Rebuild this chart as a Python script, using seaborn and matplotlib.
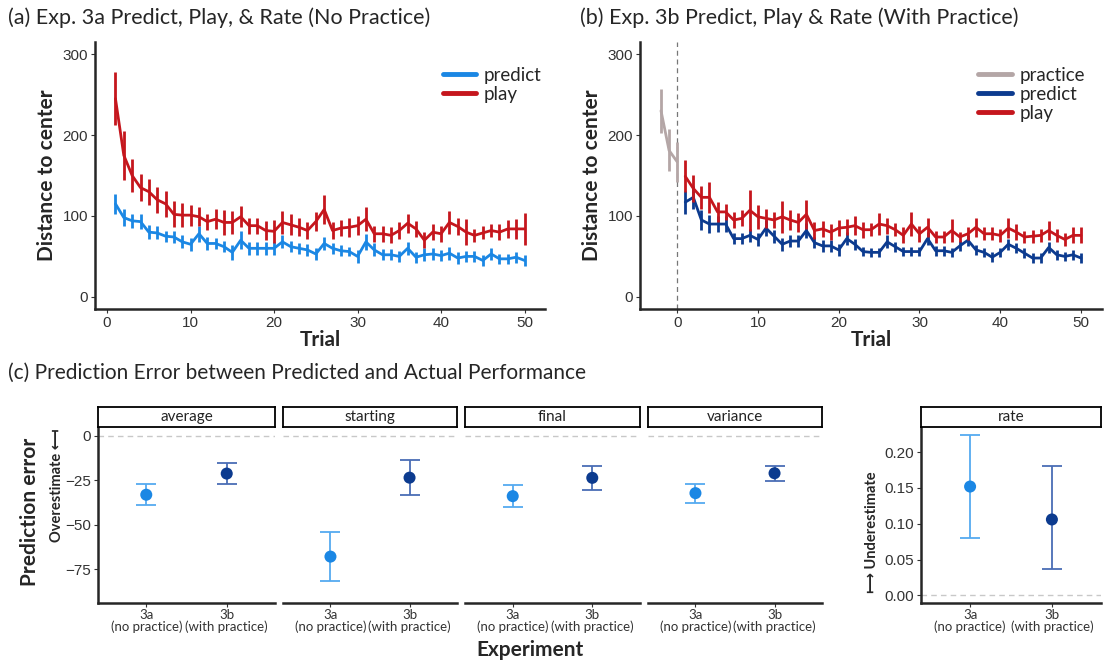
import numpy as np
import pandas as pd
import matplotlib
matplotlib.use("Agg")
import matplotlib.pyplot as plt
import seaborn as sns

# ---- data: Exp. 3a (no practice) ----
trials = list(range(1, 51))
a_play = [245, 175, 150, 135, 130, 120, 115, 102, 101, 101,
          99, 93, 96, 92, 92, 99, 88, 88, 82, 81,
          92, 89, 86, 82, 93, 108, 82, 85, 86, 88,
          96, 78, 78, 76, 82, 91, 84, 70, 80, 78,
          92, 87, 80, 76, 79, 82, 80, 84, 84, 84]
a_play_err = [33, 30, 20, 17, 16, 16, 16, 16, 15, 13,
              12, 10, 12, 15, 14, 13, 10, 10, 12, 14,
              14, 13, 11, 10, 12, 18, 10, 10, 12, 12,
              15, 10, 10, 10, 10, 12, 10, 10, 10, 10,
              14, 11, 16, 8, 8, 8, 10, 11, 12, 20]
a_pred = [115, 98, 94, 93, 80, 79, 75, 74, 68, 65,
          78, 66, 66, 62, 55, 70, 60, 60, 60, 60,
          68, 62, 60, 58, 53, 66, 60, 57, 56, 50,
          68, 58, 52, 52, 50, 60, 49, 52, 53, 51,
          54, 48, 50, 50, 45, 53, 47, 47, 49, 45]
a_pred_err = [12, 10, 9, 9, 9, 8, 7, 7, 8, 8,
              10, 8, 7, 7, 9, 11, 8, 8, 8, 8,
              8, 7, 7, 7, 7, 8, 7, 7, 6, 8,
              10, 8, 7, 7, 7, 8, 7, 8, 8, 7,
              8, 7, 7, 7, 7, 7, 6, 6, 7, 7]

# ---- data: Exp. 3b (with practice) ----
b_prac_trials = [-2, -1, 0]
b_prac = [230, 181, 167]
b_prac_err = [27, 26, 25]
b_play = [149, 134, 123, 123, 105, 105, 95, 97, 107, 99,
          97, 95, 99, 95, 92, 102, 82, 84, 80, 85,
          86, 88, 83, 83, 90, 88, 83, 76, 90, 78,
          86, 74, 74, 82, 74, 78, 86, 78, 78, 76,
          85, 80, 74, 75, 76, 82, 76, 71, 76, 76]
b_play_err = [20, 17, 14, 19, 12, 10, 10, 10, 25, 15,
              12, 10, 20, 12, 12, 18, 10, 10, 10, 10,
              10, 12, 10, 8, 14, 10, 8, 10, 15, 10,
              12, 8, 8, 14, 6, 8, 12, 8, 8, 8,
              12, 10, 8, 8, 8, 12, 8, 8, 10, 10]
b_pred = [117, 123, 95, 90, 90, 90, 72, 72, 76, 71,
          85, 75, 65, 69, 69, 82, 67, 63, 63, 58,
          72, 65, 56, 55, 55, 68, 62, 56, 56, 56,
          72, 57, 57, 55, 63, 70, 58, 55, 49, 55,
          65, 60, 54, 48, 48, 61, 52, 50, 52, 48]
b_pred_err = [14, 14, 12, 11, 10, 10, 7, 7, 8, 8,
              10, 8, 8, 7, 7, 9, 7, 7, 7, 7,
              8, 7, 6, 6, 6, 8, 6, 6, 6, 6,
              8, 6, 6, 6, 6, 7, 6, 6, 6, 6,
              7, 6, 6, 6, 6, 7, 6, 6, 6, 6]

# ---- data: prediction error (panel c) ----
experiments = ["3a\n(no practice)", "3b\n(with practice)"]
facets = ["average", "starting", "final", "variance"]
err_mean = {"average": [-33.1, -21.2], "starting": [-67.9, -23.5],
            "final": [-33.9, -23.6], "variance": [-32.2, -21.0]}
err_low = {"average": [-38.9, -27.0], "starting": [-81.9, -33.5],
           "final": [-39.8, -30.5], "variance": [-37.6, -25.3]}
err_high = {"average": [-27.2, -15.4], "starting": [-54.0, -13.4],
            "final": [-27.5, -16.8], "variance": [-27.2, -16.9]}
rate_mean = [0.152, 0.106]
rate_low = [0.080, 0.037]
rate_high = [0.2235, 0.181]

# ---- colours ----
c_light = "#1b87e4"
c_dark = "#0c3b8f"
c_red = "#c5161d"
c_prac = "#b4a6a6"
c_light_bar = "#55aaf0"
c_dark_bar = "#4a6db5"

sns.set_theme(style="ticks")
plt.rcParams["font.family"] = ["Lato", "DejaVu Sans"]
plt.rcParams["axes.linewidth"] = 1.8

W, H = 1105, 663
fig = plt.figure(figsize=(W / 100, H / 100), dpi=100)


def px(l, t, r, b):
    return [l / W, 1 - b / H, (r - l) / W, (b - t) / H]


def style_axes(ax, tick_size=11, xfam=None, xsize=None):
    sns.despine(ax=ax)
    ax.tick_params(axis="both", length=3, width=0.8, colors="#333333",
                   labelsize=tick_size, pad=2)
    for lab in ax.get_yticklabels():
        lab.set_fontfamily(["Liberation Sans", "DejaVu Sans"])
    for lab in ax.get_xticklabels():
        lab.set_fontfamily(xfam or ["Liberation Sans", "DejaVu Sans"])
        if xsize:
            lab.set_fontsize(xsize)
    ax.grid(False)


def line_panel(ax, x, y, e, color, label):
    df = pd.DataFrame({"Trial": x, "dist": y})
    sns.lineplot(data=df, x="Trial", y="dist", color=color, lw=2,
                 ax=ax, label=label)
    ax.vlines(x, np.array(y) - np.array(e), np.array(y) + np.array(e),
              color=color, lw=2)


def legend(ax, xanchor):
    leg = ax.legend(loc="upper right", frameon=False, fontsize=13.5,
                    handlelength=1.8, bbox_to_anchor=(xanchor, 0.97),
                    labelspacing=0.1, handletextpad=0.4)
    for h in leg.get_lines():
        h.set_linewidth(3.5)


# ---- panel a ----
ax_a = fig.add_axes(px(95, 42, 545, 309))
line_panel(ax_a, trials, a_pred, a_pred_err, c_light, "predict")
line_panel(ax_a, trials, a_play, a_play_err, c_red, "play")
ax_a.set_xlim(-1.45, 52.45)
ax_a.set_ylim(-15, 315)
ax_a.set_xticks([0, 10, 20, 30, 40, 50])
ax_a.set_yticks([0, 100, 200, 300])
ax_a.set_xlabel("Trial", fontsize=15, fontweight="bold", labelpad=0)
ax_a.set_ylabel("Distance to center", fontsize=15, fontweight="bold", labelpad=4)
style_axes(ax_a)
legend(ax_a, 1.03)
fig.text(8 / W, 1 - 18 / H, "(a) Exp. 3a Predict, Play, & Rate (No Practice)",
         fontsize=15.5, va="center", ha="left")

# ---- panel b ----
ax_b = fig.add_axes(px(640, 42, 1102, 309))
ax_b.axvline(0, color="#777777", lw=0.9, ls=(0, (4, 3)))
line_panel(ax_b, b_prac_trials, b_prac, b_prac_err, c_prac, "practice")
line_panel(ax_b, trials, b_pred, b_pred_err, c_dark, "predict")
line_panel(ax_b, trials, b_play, b_play_err, c_red, "play")
ax_b.set_xlim(-4.6, 52.6)
ax_b.set_ylim(-15, 315)
ax_b.set_xticks([0, 10, 20, 30, 40, 50])
ax_b.set_yticks([0, 100, 200, 300])
ax_b.set_xlabel("Trial", fontsize=15, fontweight="bold", labelpad=0)
ax_b.set_ylabel("Distance to center", fontsize=15, fontweight="bold", labelpad=4)
style_axes(ax_b)
legend(ax_b, 1.0)
fig.text(580 / W, 1 - 18 / H, "(b) Exp. 3b Predict, Play & Rate (With Practice)",
         fontsize=15.5, va="center", ha="left")

# ---- panel c ----
fig.text(8 / W, 1 - 373 / H,
         "(c) Prediction Error between Predicted and Actual Performance",
         fontsize=15, va="center", ha="left")

facet_x = [(98, 275), (283, 457), (465, 640), (648, 822)]
pt_colors = [c_light, c_dark]
bar_colors = [c_light_bar, c_dark_bar]


def strip(l, r, text):
    s = fig.add_axes(px(l, 407, r, 427))
    s.set_xticks([])
    s.set_yticks([])
    for sp in s.spines.values():
        sp.set_linewidth(1.3)
        sp.set_color("black")
    s.set_facecolor("white")
    s.text(0.5, 0.5, text, ha="center", va="center", fontsize=11,
           color="#222222", transform=s.transAxes)


def point_panel(ax, mean, low, high):
    df = pd.DataFrame({"exp": experiments, "err": mean})
    for i in range(2):
        ax.errorbar([experiments[i]], [mean[i]],
                    yerr=[[mean[i] - low[i]], [high[i] - mean[i]]],
                    fmt="none", ecolor=bar_colors[i], elinewidth=1.3,
                    capsize=7, capthick=1.3, zorder=2)
    sns.scatterplot(data=df, x="exp", y="err", hue="exp",
                    palette=pt_colors, s=75, edgecolor="none",
                    legend=False, ax=ax, zorder=3)
    ax.set_xlim(-0.6, 1.6)
    ax.set_xlabel("")
    ax.set_ylabel("")


for k, (name, (l, r)) in enumerate(zip(facets, facet_x)):
    ax = fig.add_axes(px(l, 427, r, 603))
    ax.axhline(0, color="#c8c8c8", lw=1, ls=(0, (4, 3)), zorder=1)
    point_panel(ax, err_mean[name], err_low[name], err_high[name])
    ax.set_ylim(-94, 5)
    ax.set_yticks([0, -25, -50, -75])
    style_axes(ax, tick_size=11, xfam=["Lato", "DejaVu Sans"], xsize=9.5)
    ax.tick_params(axis="x", pad=1)
    for lab in ax.get_xticklabels():
        lab.set_linespacing(0.95)
    if k > 0:
        ax.spines["left"].set_visible(False)
        ax.tick_params(axis="y", left=False, labelleft=False)
    strip(l, r, name)

ax_r = fig.add_axes(px(921, 427, 1101, 603))
ax_r.axhline(0, color="#c8c8c8", lw=1, ls=(0, (4, 3)), zorder=1)
point_panel(ax_r, rate_mean, rate_low, rate_high)
ax_r.set_ylim(-0.0107, 0.2352)
ax_r.set_yticks([0.0, 0.05, 0.10, 0.15, 0.20])
ax_r.set_yticklabels(["0.00", "0.05", "0.10", "0.15", "0.20"])
style_axes(ax_r, tick_size=11, xfam=["Lato", "DejaVu Sans"], xsize=9.5)
ax_r.tick_params(axis="x", pad=1)
for lab in ax_r.get_xticklabels():
    lab.set_linespacing(0.95)
strip(921, 1101, "rate")

fig.text(30 / W, 1 - 512 / H, "Prediction error", rotation=90, fontsize=15,
         fontweight="bold", ha="center", va="center")
fig.text(57 / W, 1 - 485 / H, "Overestimate \u27fb", rotation=90, fontsize=10.5,
         fontweight="bold", ha="center", va="center")
fig.text(872 / W, 1 - 532 / H, "\u27fc Underestimate", rotation=90, fontsize=10.5,
         fontweight="bold", ha="center", va="center")
fig.text(530 / W, 1 - 650 / H, "Experiment", fontsize=15, fontweight="bold",
         ha="center", va="center")

fig.savefig("out.png", dpi=100)
